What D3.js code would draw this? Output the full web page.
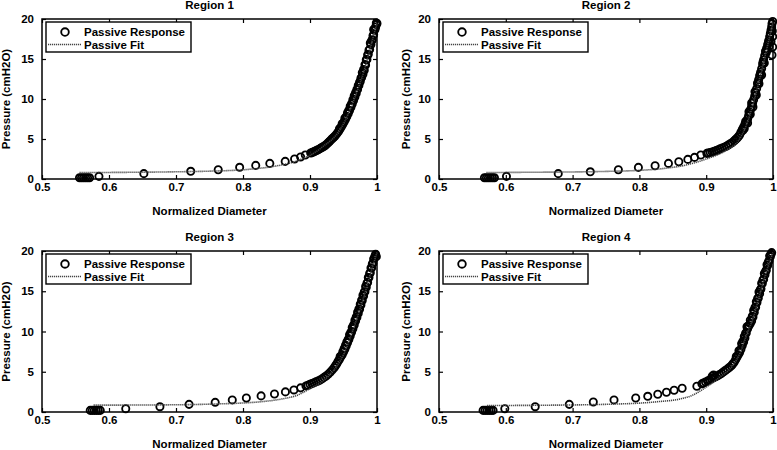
<!DOCTYPE html>
<html>
<head>
<meta charset="utf-8">
<script src="https://cdn.jsdelivr.net/npm/d3@7"></script>
<style>
  html, body { margin: 0; padding: 0; background: #fff; }
  svg { display: block; }
  text { font-family: "Liberation Sans", Arial, sans-serif; font-weight: bold; fill: #000; }
</style>
</head>
<body>
<svg id="chart" width="777" height="450"></svg>
<script>
// ---------------- data ----------------
const regionTitles = ["Region 1", "Region 2", "Region 3", "Region 4"];
const xTickValues = [0.5, 0.6, 0.7, 0.8, 0.9, 1];
const xTickLabels = ["0.5", "0.6", "0.7", "0.8", "0.9", "1"];
const yTickValues = [0, 5, 10, 15, 20];
const yTickLabels = ["0", "5", "10", "15", "20"];
const xLabel = "Normalized Diameter";
const yLabel = "Pressure (cmH2O)";
const legendLabels = ["Passive Response", "Passive Fit"];

// Region 1 – passive response (normalized diameter, pressure)
const r1Diam = [0.556,0.559,0.562,0.565,0.568,0.571,0.585,0.652,0.722,0.763,0.795,0.819,0.840,0.863,0.877,0.886,0.893,0.901,
  0.903,0.905,0.907,0.909,0.911,0.913,0.915,0.917,0.919,0.921,0.923,0.925,0.927,0.929,0.931,0.933,0.935,0.937,0.939,0.941,
  0.943,0.945,0.947,0.949,0.951,0.953,0.955,0.957,0.959,0.961,0.963,0.965,0.967,0.969,0.971,0.973,0.975,0.977,0.979,0.981,
  0.983,0.985,0.987,0.989,0.991,0.993,0.995,0.997,0.998,0.999,1.0,
  0.952,0.956,0.960,0.964,0.968,0.972,0.976,0.980,0.984,0.988,0.992,0.996,0.999,0.995,0.990,0.982,0.978,0.966,
  0.944,0.948,0.954,0.958,0.962,0.970,0.974,0.986,0.994];
const r1Pres = [0.15,0.15,0.15,0.15,0.15,0.15,0.33,0.67,0.96,1.16,1.46,1.70,1.95,2.20,2.50,2.75,3.00,3.25,
  3.30,3.38,3.46,3.54,3.62,3.70,3.80,3.90,4.00,4.10,4.22,4.36,4.52,4.68,4.86,5.03,5.18,5.35,5.55,5.77,
  6.00,6.27,6.55,6.85,7.15,7.47,7.80,8.17,8.55,8.95,9.38,9.82,10.25,10.7,11.2,11.7,12.2,12.7,13.1,13.6,
  14.25,14.95,15.6,16.2,16.8,17.4,18.05,18.7,19.0,19.3,19.45,
  7.6,8.3,9.1,9.9,10.8,11.7,12.6,13.7,14.9,16.1,17.3,18.6,19.5,18.7,17.0,14.3,13.3,10.4,
  6.3,6.9,7.8,8.6,9.4,11.2,12.1,15.5,17.9];
// Region 1 – passive fit
const r1FitDiam = [0.556,0.60,0.65,0.70,0.75,0.78,0.80,0.82,0.84,0.86,0.88,0.89,0.90,0.92,0.94,0.95,0.96,0.97,0.98,0.99,1.0];
const r1FitPres = [0.80,0.82,0.85,0.90,0.98,1.06,1.15,1.30,1.50,1.80,2.25,2.6,2.95,4.1,5.6,6.9,8.7,10.9,13.3,16.4,19.5];

// Region 2
const r2Diam = [0.568,0.571,0.574,0.577,0.580,0.583,0.601,0.6785,0.7265,0.7685,0.7985,0.8235,0.8435,0.859,0.8725,0.8825,0.892,0.901,
  0.903,0.906,0.909,0.912,0.915,0.918,0.921,0.924,0.927,0.930,0.933,0.936,0.939,0.942,0.944,0.946,0.948,0.950,0.952,0.954,
  0.956,0.958,0.960,0.962,0.9635,0.965,0.9665,0.968,0.9695,0.971,0.9725,0.974,0.9755,0.977,0.9785,0.980,0.9815,0.983,0.9845,
  0.986,0.9875,0.989,0.9905,0.992,0.9935,0.995,0.996,0.997,0.998,0.9985,0.9995,
  0.966,0.970,0.975,0.979,0.983,0.987,0.990,0.994,0.997,0.9995,0.9995,0.999,0.9985,0.957,0.962,
  0.955,0.959,0.964,0.968,0.973,0.977,0.981,0.985,0.989,0.993];
const r2Pres = [0.15,0.15,0.15,0.15,0.15,0.15,0.33,0.67,0.90,1.16,1.45,1.66,1.95,2.16,2.45,2.70,3.00,3.20,
  3.24,3.30,3.38,3.47,3.55,3.66,3.78,3.88,3.98,4.10,4.25,4.40,4.57,4.78,4.93,5.10,5.28,5.50,5.85,6.20,
  6.50,6.85,7.10,7.50,7.90,8.30,8.70,9.10,9.50,9.90,10.35,10.8,11.3,11.9,12.4,12.9,13.35,13.8,14.35,
  14.9,15.4,15.9,16.35,16.8,17.3,17.8,18.2,18.6,19.0,19.4,19.7,
  8.1,9.0,10.5,11.9,13.0,14.5,15.8,16.6,17.2,17.8,16.5,18.5,15.5,6.3,7.0,
  6.1,7.2,8.4,9.5,10.9,12.0,13.1,14.6,16.0,17.0];
const r2FitDiam = [0.571,0.60,0.65,0.70,0.75,0.80,0.84,0.87,0.90,0.93,0.95,0.96,0.97,0.98,0.99,1.0];
const r2FitPres = [0.80,0.82,0.85,0.88,0.95,1.08,1.35,1.75,2.5,3.6,5.0,6.7,9.3,12.5,16.0,19.6];

// Region 3
const r3Diam = [0.572,0.575,0.578,0.581,0.584,0.587,0.625,0.676,0.7195,0.7585,0.784,0.805,0.827,0.847,0.8633,0.876,0.886,0.894,
  0.897,0.900,0.903,0.906,0.909,0.912,0.915,0.918,0.921,0.924,0.927,0.930,0.933,0.936,0.938,0.940,0.942,0.944,0.946,0.948,
  0.950,0.952,0.954,0.956,0.958,0.960,0.962,0.964,0.966,0.968,0.970,0.972,0.974,0.976,0.978,0.980,0.982,0.984,0.986,0.988,
  0.990,0.992,0.994,0.996,0.997,0.998,0.999,
  0.951,0.955,0.959,0.963,0.967,0.971,0.975,0.979,0.983,0.987,0.991,0.995,
  0.945,0.949,0.953,0.957,0.961,0.965,0.969,0.973,0.977,0.981,0.985,0.989,0.993];
const r3Pres = [0.20,0.20,0.20,0.20,0.20,0.20,0.40,0.66,0.95,1.20,1.50,1.74,2.00,2.24,2.50,2.74,3.00,3.24,
  3.33,3.45,3.54,3.64,3.75,3.86,3.98,4.12,4.30,4.48,4.68,4.92,5.20,5.50,5.75,6.00,6.30,6.55,6.85,7.12,
  7.45,7.80,8.20,8.60,9.00,9.45,9.90,10.35,10.8,11.3,11.75,12.25,12.75,13.3,13.85,14.4,14.95,15.5,16.1,16.7,
  17.3,17.9,18.5,19.1,19.4,19.6,19.3,
  7.9,8.7,9.6,10.5,11.4,12.4,13.4,14.5,15.6,16.7,17.9,19.0,
  6.9,7.5,8.3,9.0,9.9,10.8,11.8,12.8,13.9,14.9,16.0,17.2,18.4];
const r3FitDiam = [0.577,0.62,0.67,0.72,0.76,0.80,0.83,0.86,0.88,0.90,0.92,0.94,0.95,0.96,0.97,0.98,0.99,1.0];
const r3FitPres = [0.85,0.86,0.88,0.92,1.0,1.12,1.3,1.65,2.05,2.9,3.9,5.7,7.1,9.2,11.6,14.2,17.1,19.8];

// Region 4
const r4Diam = [0.566,0.569,0.572,0.575,0.578,0.581,0.5985,0.644,0.695,0.731,0.762,0.7945,0.8125,0.8275,0.8405,0.852,0.864,0.886,0.8935,
  0.896,0.899,0.902,0.905,0.908,0.911,0.914,0.917,0.920,0.923,0.926,0.929,0.932,0.935,0.938,0.940,0.942,0.944,0.946,0.948,
  0.950,0.952,0.954,0.956,0.958,0.960,0.962,0.964,0.966,0.968,0.970,0.972,0.974,0.976,0.978,0.980,0.982,0.984,0.986,0.988,
  0.990,0.992,0.994,0.996,0.997,0.998,
  0.909,0.911,0.953,0.957,0.961,0.966,0.971,0.975,0.979,0.983,0.987,0.991,0.995,
  0.945,0.949,0.955,0.959,0.963,0.969,0.973,0.977,0.981,0.985,0.989,0.993];
const r4Pres = [0.20,0.20,0.20,0.20,0.20,0.20,0.40,0.66,0.95,1.24,1.50,1.74,1.95,2.20,2.45,2.70,2.95,3.20,3.50,
  3.60,3.72,3.84,3.98,4.12,4.26,4.38,4.50,4.64,4.80,5.00,5.18,5.36,5.55,5.78,6.00,6.20,6.50,6.80,7.10,
  7.40,7.80,8.25,8.70,9.20,9.80,10.35,10.7,11.0,11.3,11.8,12.4,13.0,13.6,14.15,14.7,15.3,15.95,16.5,17.05,
  17.6,18.2,18.8,19.3,19.6,19.8,
  4.45,4.60,8.5,9.4,10.6,11.4,12.6,13.7,14.9,16.0,17.2,18.3,19.4,
  6.9,7.6,8.8,9.8,10.7,11.9,13.0,14.1,15.2,16.4,17.5,18.6];
const r4FitDiam = [0.572,0.62,0.67,0.72,0.76,0.80,0.83,0.86,0.88,0.90,0.92,0.94,0.95,0.96,0.97,0.98,0.99,1.0];
const r4FitPres = [0.80,0.82,0.85,0.90,0.98,1.1,1.3,1.6,2.1,3.1,4.3,5.8,7.2,9.5,11.6,14.5,17.4,19.8];

// ---------------- layout ----------------
const panels = [
  { title: regionTitles[0], d: r1Diam, p: r1Pres, fd: r1FitDiam, fp: r1FitPres, left: 42,  right: 377, top: 19,  bottom: 179, ylab: 10 },
  { title: regionTitles[1], d: r2Diam, p: r2Pres, fd: r2FitDiam, fp: r2FitPres, left: 439, right: 773, top: 19,  bottom: 179, ylab: 410 },
  { title: regionTitles[2], d: r3Diam, p: r3Pres, fd: r3FitDiam, fp: r3FitPres, left: 42,  right: 377, top: 251, bottom: 412, ylab: 10 },
  { title: regionTitles[3], d: r4Diam, p: r4Pres, fd: r4FitDiam, fp: r4FitPres, left: 439, right: 773, top: 251, bottom: 412, ylab: 410 }
];

const svg = d3.select("#chart");
const FS = 11.5;

panels.forEach(pn => {
  const w = pn.right - pn.left, h = pn.bottom - pn.top;
  const g = svg.append("g").attr("transform", `translate(${pn.left},${pn.top})`);
  const x = d3.scaleLinear().domain([0.5, 1]).range([0, w]);
  const y = d3.scaleLinear().domain([0, 20]).range([h, 0]);

  const fmtX = (v, i) => xTickLabels[i];
  const fmtY = (v, i) => yTickLabels[i];
  const axB = g.append("g").attr("transform", `translate(0,${h})`)
    .call(d3.axisBottom(x).tickValues(xTickValues).tickFormat(fmtX).tickSizeInner(-4).tickSizeOuter(0).tickPadding(4));
  const axT = g.append("g")
    .call(d3.axisTop(x).tickValues(xTickValues).tickFormat("").tickSizeInner(-4).tickSizeOuter(0));
  const axL = g.append("g")
    .call(d3.axisLeft(y).tickValues(yTickValues).tickFormat(fmtY).tickSizeInner(-4).tickSizeOuter(0).tickPadding(8));
  const axR = g.append("g").attr("transform", `translate(${w},0)`)
    .call(d3.axisRight(y).tickValues(yTickValues).tickFormat("").tickSizeInner(-4).tickSizeOuter(0));
  [axB, axT, axL, axR].forEach(a => {
    a.select(".domain").remove();
    a.selectAll(".tick line").attr("stroke", "#000").attr("stroke-width", 1.2);
    a.selectAll("text").attr("font-size", FS).attr("font-weight", "bold")
      .attr("font-family", "Liberation Sans, Arial, sans-serif").attr("fill", "#000");
  });

  g.append("rect").attr("x", 0).attr("y", 0).attr("width", w).attr("height", h)
    .attr("fill", "none").attr("stroke", "#000").attr("stroke-width", 1.5);

  // response circles
  const pts = pn.d.map((dv, i) => [dv, pn.p[i]]);
  g.append("g").selectAll("circle").data(pts).join("circle")
    .attr("cx", d => x(d[0])).attr("cy", d => y(d[1])).attr("r", 3.6)
    .attr("fill", "none").attr("stroke", "#000").attr("stroke-width", 1.85);

  // fit line
  const fit = pn.fd.map((dv, i) => [dv, pn.fp[i]]);
  g.append("path").datum(fit)
    .attr("d", d3.line().x(d => x(d[0])).y(d => y(d[1])).curve(d3.curveMonotoneX))
    .attr("fill", "none").attr("stroke", "#444").attr("stroke-width", 1.6)
    .attr("stroke-dasharray", "1.2,0.8");

  g.append("text").attr("x", w / 2).attr("y", -10).attr("text-anchor", "middle")
    .attr("font-size", FS).text(pn.title);
  g.append("text").attr("x", w / 2).attr("y", h + 35.5).attr("text-anchor", "middle")
    .attr("font-size", FS).text(xLabel);
  g.append("text").attr("transform", `translate(${pn.ylab - pn.left},${h / 2}) rotate(-90)`)
    .attr("text-anchor", "middle").attr("font-size", FS).text(yLabel);

  // legend
  const lg = g.append("g").attr("transform", "translate(4,3)");
  lg.append("rect").attr("x", 0).attr("y", 0).attr("width", 145).attr("height", 30)
    .attr("fill", "#fff").attr("stroke", "#000").attr("stroke-width", 1.4);
  lg.append("circle").attr("cx", 19).attr("cy", 10).attr("r", 3.8)
    .attr("fill", "none").attr("stroke", "#000").attr("stroke-width", 1.85);
  lg.append("text").attr("x", 38).attr("y", 14).attr("font-size", FS).text(legendLabels[0]);
  lg.append("line").attr("x1", 2).attr("x2", 35).attr("y1", 22.5).attr("y2", 22.5)
    .attr("stroke", "#444").attr("stroke-width", 1.6).attr("stroke-dasharray", "1.2,0.8");
  lg.append("text").attr("x", 38).attr("y", 27).attr("font-size", FS).text(legendLabels[1]);
});
</script>
</body>
</html>
